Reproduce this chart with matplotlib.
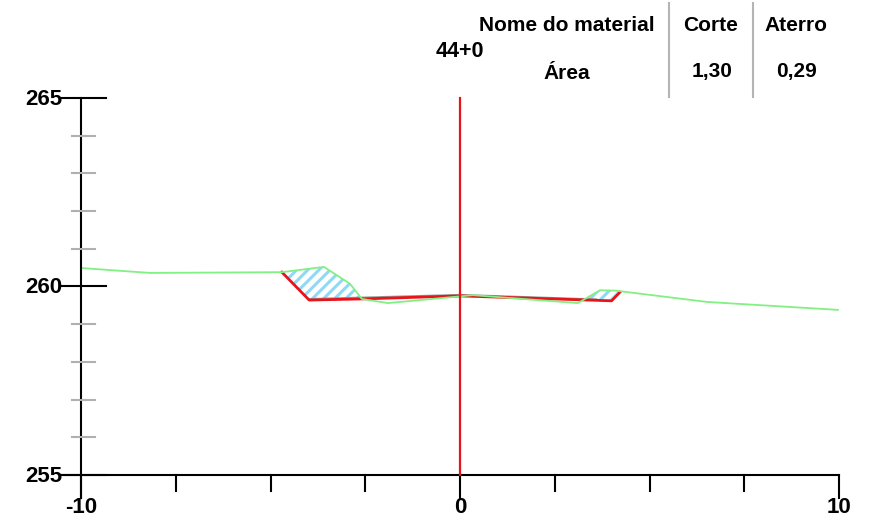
import numpy as np
import matplotlib
matplotlib.use("Agg")
import matplotlib.pyplot as plt

plt.rcParams['font.family'] = ['Liberation Sans', 'DejaVu Sans']
plt.rcParams['hatch.linewidth'] = 2.2

# terrain (green) and design section (red), offset (m) vs elevation (m)
terrain_x = [-10.0, -8.18, -4.70, -3.59, -2.90, -2.59, -1.90, 0.34, 3.11, 3.69, 4.10, 6.52, 9.97]
terrain_y = [260.49, 260.36, 260.38, 260.52, 260.07, 259.67, 259.56, 259.77, 259.56, 259.90, 259.89, 259.59, 259.38]
design_x = [-4.70, -3.98, -2.59, 0.0, 4.00, 4.22]
design_y = [260.38, 259.64, 259.67, 259.75, 259.62, 259.85]
subgrade_x = [-3.98, 0.0, 3.60]
subgrade_y = [259.67, 259.78, 259.66]

station = "44+0"
table_head = ["Nome do material", "Corte", "Aterro"]
table_row = ["Área", "1,30", "0,29"]

x_ticks = [-10, -7.5, -5, -2.5, 0, 2.5, 5, 7.5, 10]
x_labels = {-10: "-10", 0: "0", 10: "10"}
y_ticks = [255, 256, 257, 258, 259, 260, 261, 262, 263, 264, 265]
y_labels = {255: "255", 260: "260", 265: "265"}

green = '#82f082'
red = '#e8141a'
hatch_blue = '#8fd9f7'

fig = plt.figure(figsize=(8.74, 5.28), dpi=100)
ax = fig.add_axes([0, 0, 1, 1])
ax.set_xlim(-12.137, 10.923)
ax.set_ylim(253.594, 267.599)
ax.axis('off')

# cut area hatch
xs = np.unique(np.r_[design_x, terrain_x])
xs = xs[(xs >= design_x[0]) & (xs <= design_x[-1])]
gi = np.interp(xs, terrain_x, terrain_y)
ri = np.interp(xs, design_x, design_y)
ax.fill_between(xs, ri, gi, where=gi > ri, interpolate=True,
                facecolor='none', edgecolor=hatch_blue, hatch='///', linewidth=0)

ax.plot(subgrade_x, subgrade_y, color='#9a9a9a', lw=1.3)
ax.plot(design_x, design_y, color=red, lw=2.0)
ax.plot(terrain_x, terrain_y, color=green, lw=1.3)

# axes frame
ax.plot([-10, -10], [254.39, 265], color='k', lw=1.5)
ax.plot([-10.55, 10], [255, 255], color='k', lw=1.5)
for t in y_ticks:
    if t in y_labels:
        ax.plot([-10.55, -9.34], [t, t], color='k', lw=1.5)
        ax.text(-10.5, t - 0.03, y_labels[t], ha='right', va='center',
                fontsize=16, fontweight='bold')
    else:
        ax.plot([-10.24, -9.63], [t, t], color='#b0b0b0', lw=1.5)
for t in x_ticks:
    if t in x_labels:
        ax.plot([t, t], [254.39, 255], color='k', lw=1.5)
        ax.text(t, 254.15, x_labels[t], ha='center', va='center',
                fontsize=16, fontweight='bold')
    else:
        ax.plot([t, t], [254.58, 255], color='k', lw=1.5)

# station line
ax.plot([0, 0], [255, 265], color=red, lw=1.6)
ax.text(0, 266.22, station, ha='center', va='center', fontsize=15.5, fontweight='bold')

# area table
ax.text(5.145, 266.91, table_head[0], ha='right', va='center', fontsize=15, fontweight='bold')
ax.text(6.62, 266.91, table_head[1], ha='center', va='center', fontsize=15, fontweight='bold')
ax.text(8.87, 266.91, table_head[2], ha='center', va='center', fontsize=15, fontweight='bold')
ax.text(2.82, 265.64, table_row[0], ha='center', va='center', fontsize=15, fontweight='bold')
ax.text(6.65, 265.69, table_row[1], ha='center', va='center', fontsize=15, fontweight='bold')
ax.text(8.87, 265.69, table_row[2], ha='center', va='center', fontsize=15, fontweight='bold')
for sx in [5.51, 7.73]:
    ax.plot([sx, sx], [265.03, 267.52], color='#b4b4b4', lw=1.5)

fig.savefig("out.png", dpi=100)
